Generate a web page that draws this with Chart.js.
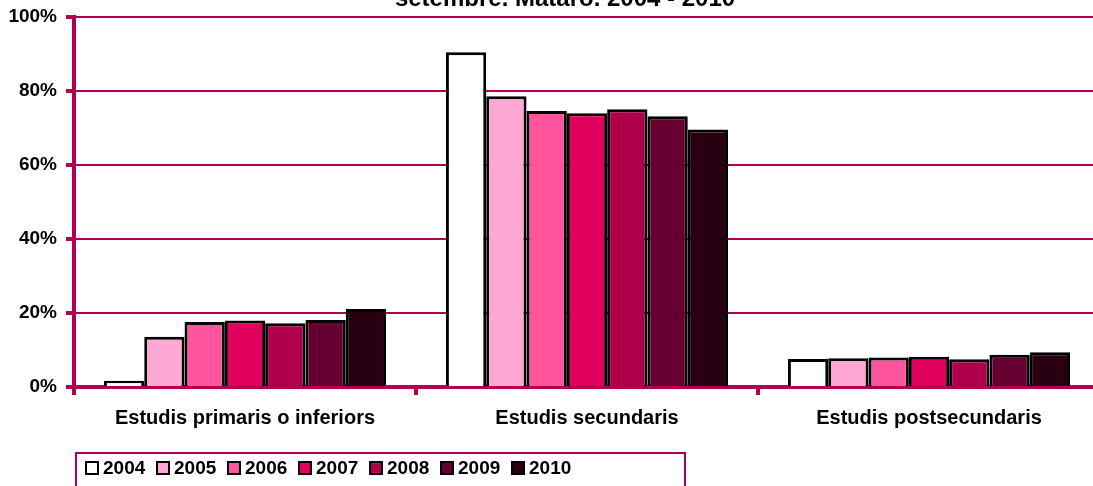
<!DOCTYPE html>
<html>
<head>
<meta charset="utf-8">
<script src="https://cdn.jsdelivr.net/npm/chart.js"></script>
<style>
  html, body { margin: 0; padding: 0; background: #fff; overflow: hidden; }
  #wrap { position: relative; width: 1093px; height: 486px; overflow: hidden; }
  #box { position: absolute; left: 0; top: 0; width: 1110px; height: 486px; }
  #legend {
    position: absolute; left: 75px; top: 452px; width: 611px; height: 50px;
    border: 2px solid #B0004F; box-sizing: border-box;
    font: bold 19px "Liberation Sans", Arial, sans-serif; color: #000;
    display: flex; padding-left: 8px; padding-top: 3px;
  }
  #legend .item { width: 71px; display: flex; align-items: center; height: 22px; }
  #legend .sw { width: 10px; height: 10px; border: 2px solid #000; margin-right: 4px; }
</style>
</head>
<body>
<div id="wrap">
  <div id="box"><canvas id="chart" width="1110" height="486"></canvas></div>
  <div id="legend"></div>
</div>
<script>
const categories = ['Estudis primaris o inferiors', 'Estudis secundaris', 'Estudis postsecundaris'];
const years = ['2004', '2005', '2006', '2007', '2008', '2009', '2010'];
const v2004 = [1.7, 90.5, 7.6];
const v2005 = [13.6, 78.6, 7.8];
const v2006 = [17.6, 74.6, 8.0];
const v2007 = [18.0, 74.0, 8.2];
const v2008 = [17.2, 75.1, 7.5];
const v2009 = [18.1, 73.2, 8.7];
const v2010 = [21.1, 69.6, 9.4];
const yTicks = [0, 20, 40, 60, 80, 100];
const titleText = 'setembre. Mataró. 2004 - 2010';

const seriesValues = [v2004, v2005, v2006, v2007, v2008, v2009, v2010];
const colors = ['#FFFFFF', '#FFA8D4', '#FF559E', '#E0005E', '#B0004C', '#660030', '#280012'];
const axisColor = '#B0004F';
const font = '"Liberation Sans", Arial, sans-serif';

const titlePlugin = {
  id: 'cutTitle',
  afterDraw(chart) {
    const ctx = chart.ctx;
    ctx.save();
    ctx.fillStyle = '#000';
    ctx.font = 'bold 24px ' + font;
    ctx.textAlign = 'center';
    ctx.textBaseline = 'alphabetic';
    ctx.fillText(titleText, 565, 6);
    ctx.restore();
  }
};

const chart = new Chart(document.getElementById('chart'), {
  type: 'bar',
  data: {
    labels: categories,
    datasets: years.map((y, i) => ({
      label: y,
      data: seriesValues[i],
      backgroundColor: colors[i],
      borderColor: '#000',
      borderWidth: 3,
      barPercentage: 1,
      categoryPercentage: 0.825
    }))
  },
  options: {
    responsive: false,
    animation: false,
    layout: { padding: { top: 17, right: 10, left: 0, bottom: 0 } },
    plugins: {
      legend: { display: false },
      title: { display: false },
      tooltip: { enabled: false }
    },
    scales: {
      x: {
        offset: true,
        afterFit(scale) { scale.height = 99; scale.paddingLeft = 0; scale.paddingRight = 0; },
        grid: {
          offset: true,
          drawOnChartArea: false,
          drawTicks: true,
          tickLength: 8,
          color: axisColor,
          lineWidth: 4
        },
        border: { display: true, color: axisColor, width: 4 },
        ticks: {
          color: '#000',
          padding: 11,
          font: { family: font, size: 20, weight: 'bold' },
          maxRotation: 0
        }
      },
      y: {
        min: 0,
        max: 100,
        afterFit(scale) { scale.width = 74; scale.paddingTop = 0; scale.paddingBottom = 0; },
        afterBuildTicks(scale) { scale.ticks = yTicks.map(v => ({ value: v })); },
        grid: {
          color: axisColor,
          lineWidth: 2,
          tickLength: 8,
          tickColor: axisColor,
          tickWidth: 4
        },
        border: { display: true, color: axisColor, width: 4 },
        ticks: {
          color: '#000',
          padding: 9,
          font: { family: font, size: 19, weight: 'bold' },
          callback: v => v + '%'
        }
      }
    }
  },
  plugins: [titlePlugin]
});

const legendEl = document.getElementById('legend');
chart.data.datasets.forEach(ds => {
  const item = document.createElement('div');
  item.className = 'item';
  item.innerHTML = `<span class="sw" style="background:${ds.backgroundColor}"></span><span>${ds.label}</span>`;
  legendEl.appendChild(item);
});
</script>
</body>
</html>
